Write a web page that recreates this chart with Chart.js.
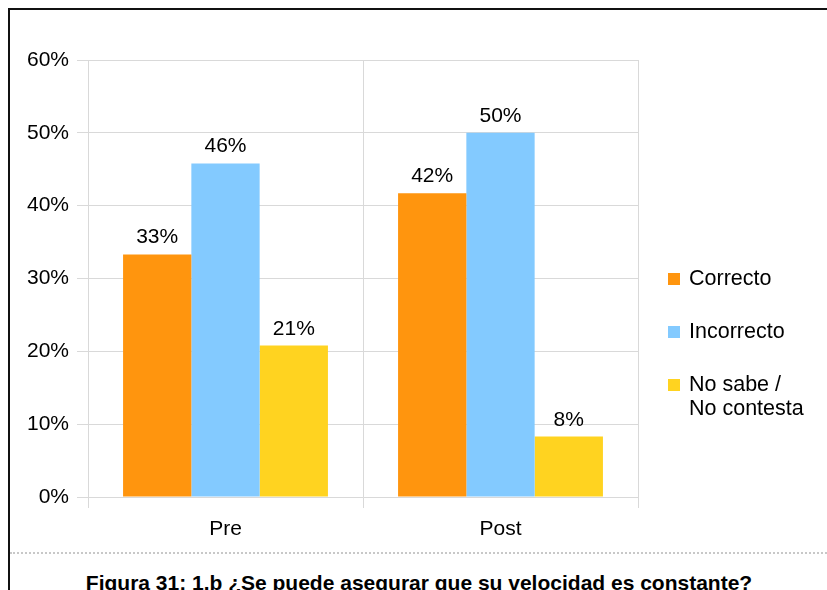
<!DOCTYPE html>
<html>
<head>
<meta charset="utf-8">
<script src="https://cdn.jsdelivr.net/npm/chart.js@4.4.1/dist/chart.umd.min.js"></script>
<style>
  html, body { margin: 0; padding: 0; background: #fff; width: 827px; height: 590px; overflow: hidden; }
  #frame { position: absolute; left: 8px; top: 8px; width: 830px; height: 600px; border-top: 2px solid #111; border-left: 2px solid #111; }
  #wrap { position: absolute; left: 0; top: 0; width: 827px; height: 553px; }
  #sep { position: absolute; left: 10px; top: 552px; width: 817px; border-top: 2px dotted #c8c8c8; }
  #caption { position: absolute; left: 0; top: 571px; width: 838px; text-align: center; font: bold 21px "Liberation Sans", Arial, sans-serif; color: #000; line-height: 24px; white-space: nowrap; }
</style>
</head>
<body>
<div id="frame"></div>
<div id="wrap"><canvas id="chart"></canvas></div>
<div id="sep"></div>
<div id="caption">Figura 31: 1.b ¿Se puede asegurar que su velocidad es constante?</div>
<script>
const categories = ['Pre', 'Post']
const correcto = [33.3, 41.7]
const incorrecto = [45.8, 50.0]
const noSabe = [20.8, 8.3]
const seriesNames = ['Correcto', 'Incorrecto', ['No sabe /', 'No contesta']]
const seriesColors = ['#ff950e', '#83caff', '#ffd320']
const yTicks = [0, 10, 20, 30, 40, 50, 60]

const FONT = '"Liberation Sans", Arial, sans-serif'

// value labels above bars
const barLabels = {
    id: 'barLabels',
    afterDatasetsDraw(chart) {
        const ctx = chart.ctx
        ctx.save()
        ctx.font = '21px ' + FONT
        ctx.fillStyle = '#000'
        ctx.textAlign = 'center'
        ctx.textBaseline = 'alphabetic'
        chart.data.datasets.forEach((ds, i) => {
            chart.getDatasetMeta(i).data.forEach((bar, j) => {
                ctx.fillText(Math.round(ds.data[j]) + '%', bar.x, bar.y - 11)
            })
        })
        ctx.restore()
    }
}

// legend on the right, with multi-line labels
const sideLegend = {
    id: 'sideLegend',
    afterDraw(chart) {
        const ctx = chart.ctx
        const x0 = chart.chartArea.right + 30
        let y = 279
        ctx.save()
        ctx.font = '21.5px ' + FONT
        ctx.textBaseline = 'middle'
        chart.data.datasets.forEach(ds => {
            const lines = Array.isArray(ds.label) ? ds.label : [ds.label]
            ctx.fillStyle = ds.backgroundColor
            ctx.fillRect(x0, y - 6, 12, 12)
            ctx.fillStyle = '#000'
            lines.forEach((ln, k) => ctx.fillText(ln, x0 + 21, y + k * 24))
            y += 53
        })
        ctx.restore()
    }
}

new Chart(document.getElementById('chart'), {
    type: 'bar',
    data: {
        labels: categories,
        datasets: [correcto, incorrecto, noSabe].map((d, i) => ({
            label: seriesNames[i],
            data: d,
            backgroundColor: seriesColors[i],
            borderWidth: 0,
            categoryPercentage: 0.745,
            barPercentage: 1
        }))
    },
    options: {
        responsive: true,
        maintainAspectRatio: false,
        animation: false,
        layout: { padding: { top: 60, right: 189, left: 0, bottom: 0 } },
        scales: {
            x: {
                afterFit: s => { s.height = 56 },
                grid: { color: '#d9d9d9', tickLength: 11, offset: true },
                border: { color: '#d9d9d9' },
                ticks: { font: { family: FONT, size: 21 }, color: '#000', padding: 9 }
            },
            y: {
                min: 0,
                max: 60,
                afterFit: s => { s.width = 88 },
                afterBuildTicks: s => { s.ticks = yTicks.map(v => ({ value: v })) },
                grid: { color: '#d9d9d9', tickLength: 11 },
                border: { color: '#d9d9d9' },
                ticks: { font: { family: FONT, size: 21 }, color: '#000', padding: 8, callback: v => v + '%' }
            }
        },
        plugins: {
            legend: { display: false },
            tooltip: { enabled: false }
        }
    },
    plugins: [barLabels, sideLegend]
})
</script>
</body>
</html>
